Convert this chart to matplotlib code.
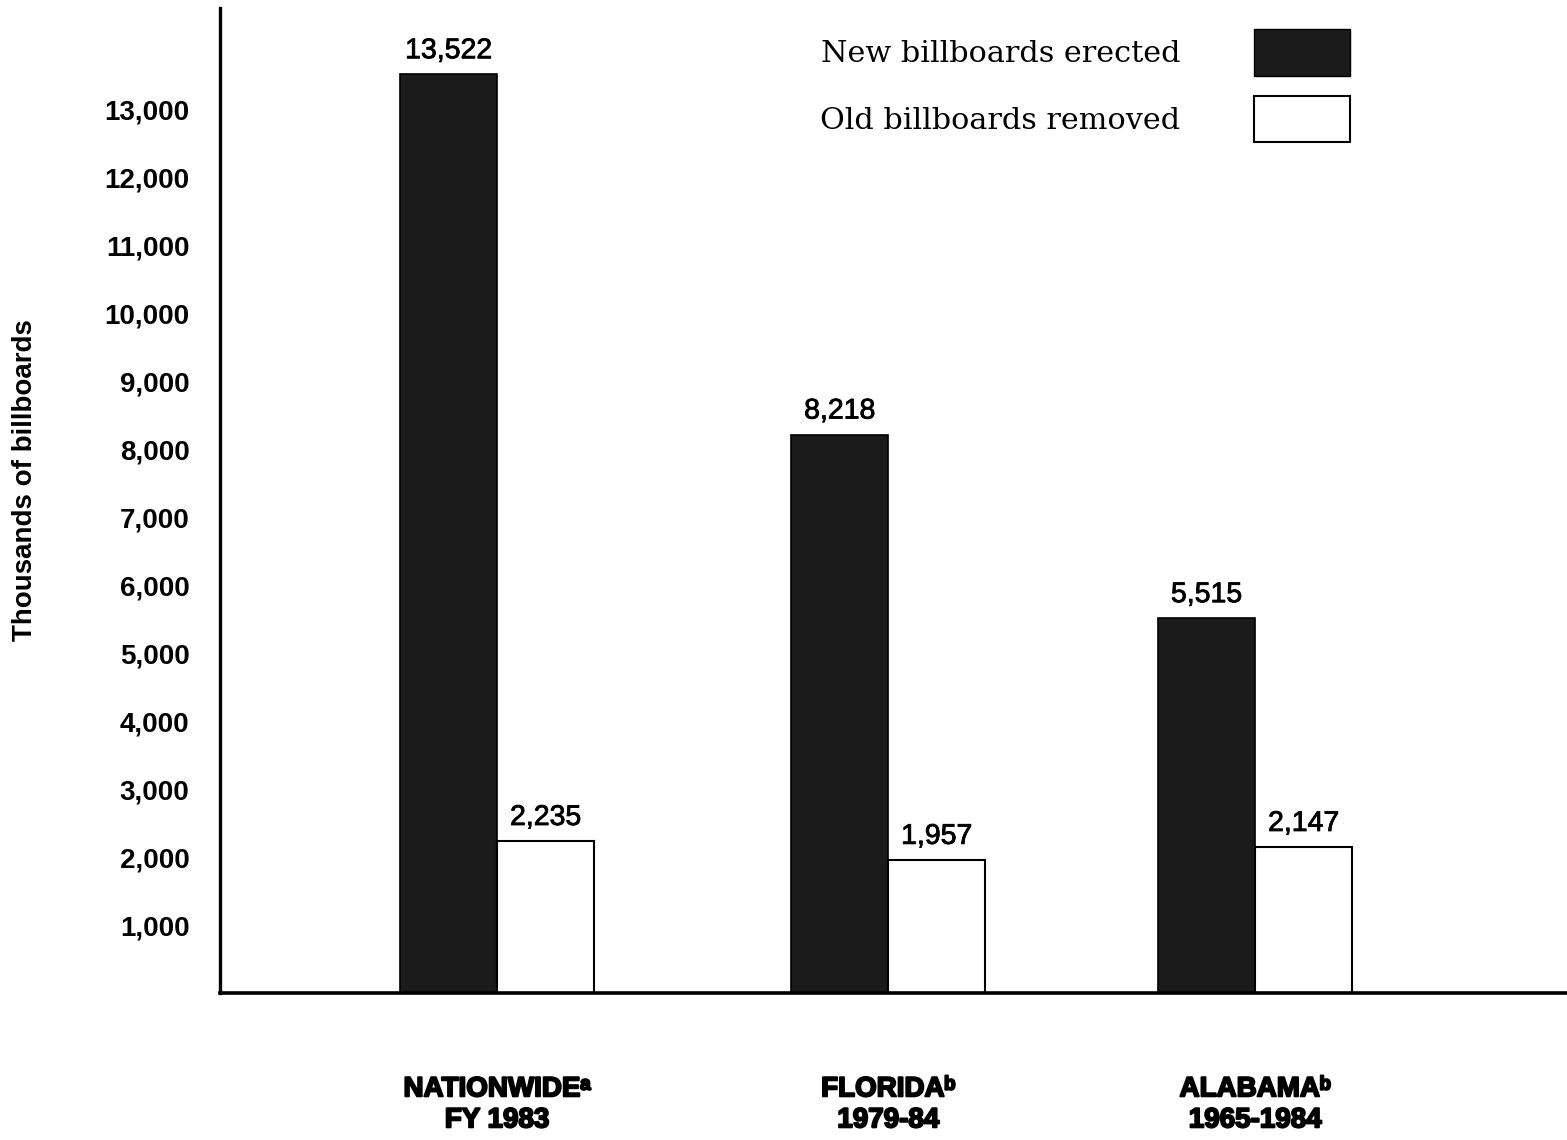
import numpy as np
import matplotlib
matplotlib.use('Agg')
import matplotlib.pyplot as plt
from matplotlib.patches import Patch
import matplotlib.patheffects as pe

# data (thousands of billboards, as labelled on the chart)
regions = ['NATIONWIDE\u1d43\nFY 1983', 'FLORIDA\u1d47\n1979-84', 'ALABAMA\u1d47\n1965-1984']
new_erected = [13522, 8218, 5515]
old_removed = [2235, 1957, 2147]
yticks = [1000, 2000, 3000, 4000, 5000, 6000, 7000, 8000, 9000, 10000, 11000, 12000, 13000]

sans = ['Liberation Sans', 'DejaVu Sans']
dark = '#1b1b1b'

fig = plt.figure(figsize=(15.67, 11.40), dpi=100)
ax = fig.add_axes([220/1567, 1-993/1140, 1-220/1567, (993-8)/1140])

# groups are not evenly spaced in the original
x = np.array([0, 1.032, 2])
w = 0.256
b1 = ax.bar(x - w/2, new_erected, w, color=dark, edgecolor='black', linewidth=1.2)
b2 = ax.bar(x + w/2, old_removed, w, color='white', edgecolor='black', linewidth=1.5)

for rect, v in zip(list(b1) + list(b2), new_erected + old_removed):
    ax.text(rect.get_x() + rect.get_width()/2, v + 150, f'{v:,}',
            ha='center', va='bottom', fontsize=20.5, family=sans,
            path_effects=[pe.withStroke(linewidth=0.6, foreground='black')])

ax.set_xlim(-0.731, 2.823)
ax.set_ylim(0, 14500)
ax.set_yticks(yticks)
ax.set_yticklabels([f'{t:,}' for t in yticks], fontsize=20, fontweight='bold', family=sans)
ax.set_xticks(x)
ax.set_xticklabels(regions, fontsize=20, fontweight='heavy', family=sans, linespacing=1.25)
for lab in ax.get_xticklabels():
    lab.set_path_effects([pe.withStroke(linewidth=1.4, foreground='black')])
ax.tick_params(axis='y', length=0, pad=22)
ax.tick_params(axis='x', length=0, pad=60)

ax.set_ylabel('Thousands of billboards', fontsize=20, fontweight='bold', family=sans)
ax.yaxis.set_label_coords(-(220 - 38) / 1347, 1 - (480 - 8) / 985)

for s in ['top', 'right']:
    ax.spines[s].set_visible(False)
ax.spines['left'].set_linewidth(2.4)
ax.spines['bottom'].set_linewidth(2.6)

handles = [Patch(facecolor=dark, edgecolor='black'),
           Patch(facecolor='white', edgecolor='black', linewidth=1.5)]
fig.legend(handles, ['New billboards erected', 'Old billboards removed'],
           loc='upper right', bbox_to_anchor=(1365/1567, 1-14/1140),
           markerfirst=False, frameon=False, borderpad=0,
           handlelength=3.15, handleheight=2.0, labelspacing=0.65, handletextpad=2.45,
           prop={'family': 'DejaVu Serif', 'size': 21.8})

fig.savefig('out.png', dpi=100)
